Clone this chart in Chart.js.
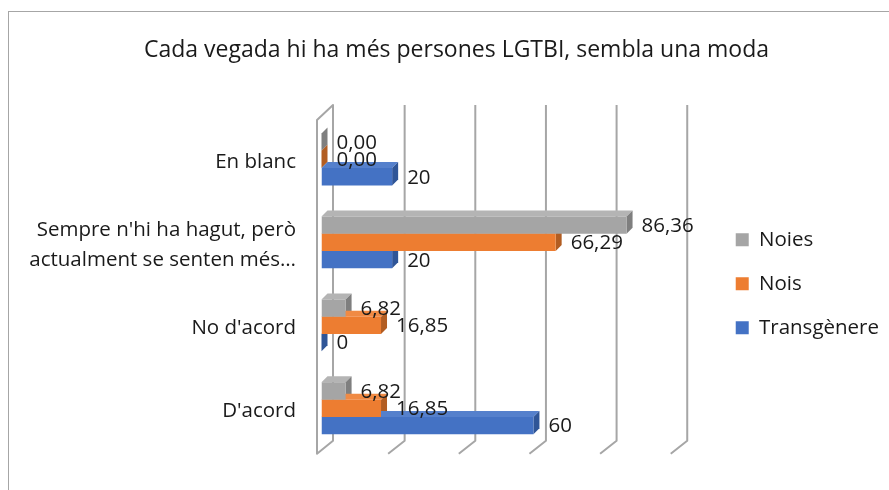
<!DOCTYPE html>
<html>
<head>
<meta charset="utf-8">
<script src="https://cdn.jsdelivr.net/npm/chart.js@4"></script>
<style>
  html, body { margin: 0; padding: 0; background: #fff; }
  #wrap { position: relative; width: 889px; height: 490px; overflow: hidden; }
  #frame { position: absolute; left: 8px; top: 11px; width: 920px; height: 520px; border: 1px solid #a6a6a6; }
  canvas { position: absolute; left: 0; top: 0; }
</style>
</head>
<body>
<div id="wrap">
  <div id="frame"></div>
  <canvas id="my-chart" width="889" height="490"></canvas>
</div>
<script>
// categories (top to bottom) and series
const categories = [
  "En blanc",
  ["Sempre n'hi ha hagut, però", "actualment se senten més…"],
  "No d'acord",
  "D'acord"
];
const noies = [0, 86.36, 6.82, 6.82];
const nois = [0, 66.29, 16.85, 16.85];
const transgenere = [20, 20, 0, 60];
const labelDecimals = [2, 2, 0];
const xMax = 100;
const xStep = 20;

const FONT = "'Open Sans', sans-serif";
const TEXT = "#1a1a1a";

// bar depth and floor depth
const DX = 6, DY = -6;

const faceColors = [
  { top: "#b4b4b4", side: "#7f7f7f" },
  { top: "#f08a44", side: "#b25d22" },
  { top: "#5580cc", side: "#2f5597" }
];

const depthPlugin = {
  id: "depth",
  beforeDatasetsDraw(chart) {
    const { ctx, chartArea: a, scales } = chart;
    const x = scales.x;
    ctx.save();
    ctx.strokeStyle = "#a6a6a6";
    ctx.lineWidth = 2;
    ctx.lineJoin = "round";
    x.ticks.forEach((t, i) => {
      const px = x.getPixelForValue(t.value);
      ctx.beginPath();
      if (i === 0) {
        // left wall
        ctx.moveTo(px - 4.5, a.top + 2);
        ctx.lineTo(px - 4.5, a.bottom + 4);
        ctx.lineTo(px + 11.5, a.bottom - 9);
        ctx.lineTo(px + 11.5, a.top - 13);
        ctx.closePath();
      } else {
        ctx.moveTo(px + 12.5, a.top - 13);
        ctx.lineTo(px + 12.5, a.bottom - 9);
        ctx.lineTo(px - 4, a.bottom + 4);
      }
      ctx.stroke();
    });
    // top and side faces of the bars
    chart.data.datasets.forEach((ds, di) => {
      const meta = chart.getDatasetMeta(di);
      meta.data.forEach((bar) => {
        const p = bar.getProps(["x", "y", "base", "height"], true);
        const top = p.y - p.height / 2;
        const bottom = p.y + p.height / 2;
        ctx.fillStyle = faceColors[di].top;
        ctx.beginPath();
        ctx.moveTo(p.base, top);
        ctx.lineTo(p.x, top);
        ctx.lineTo(p.x + DX, top + DY);
        ctx.lineTo(p.base + DX, top + DY);
        ctx.closePath();
        ctx.fill();
        ctx.fillStyle = faceColors[di].side;
        ctx.beginPath();
        ctx.moveTo(p.x, top);
        ctx.lineTo(p.x + DX, top + DY);
        ctx.lineTo(p.x + DX, bottom + DY);
        ctx.lineTo(p.x, bottom);
        ctx.closePath();
        ctx.fill();
      });
    });
    ctx.restore();
  },
  afterDatasetsDraw(chart) {
    const { ctx } = chart;
    ctx.save();
    ctx.font = "20.5px " + FONT;
    ctx.fillStyle = TEXT;
    ctx.textAlign = "left";
    ctx.textBaseline = "middle";
    chart.data.datasets.forEach((ds, di) => {
      const meta = chart.getDatasetMeta(di);
      meta.data.forEach((bar, i) => {
        const p = bar.getProps(["x", "y"], true);
        const txt = ds.data[i].toFixed(labelDecimals[di]).replace(".", ",");
        ctx.fillText(txt, p.x + 15, p.y + 1);
      });
    });
    ctx.restore();
  }
};

const ctx = document.getElementById("my-chart").getContext("2d");
const chart = new Chart(ctx, {
  type: "bar",
  data: {
    labels: categories,
    datasets: [
      { label: "Noies", data: noies, backgroundColor: "#a5a5a5" },
      { label: "Nois", data: nois, backgroundColor: "#ed7d31" },
      { label: "Transgènere", data: transgenere, backgroundColor: "#4472c4" }
    ]
  },
  options: {
    indexAxis: "y",
    responsive: false,
    animation: false,
    devicePixelRatio: 1,
    categoryPercentage: 0.625,
    barPercentage: 1,
    layout: { padding: { left: 24, right: 0, top: 0, bottom: 36 } },
    scales: {
      x: {
        display: false,
        min: 0,
        max: xMax,
        ticks: { stepSize: xStep }
      },
      y: {
        grid: { display: false, drawTicks: false },
        border: { display: false },
        ticks: {
          padding: 25.5,
          labelOffset: 3,
          color: TEXT,
          font: { family: FONT, size: 20.5, lineHeight: 1.44 }
        },
        afterFit(scale) { scale.width = 297.5; }
      },
      // empty axis that keeps the gap between the plot and the legend
      gap: {
        type: "category",
        position: "right",
        grid: { display: false, drawTicks: false },
        border: { display: false },
        ticks: { display: false },
        afterFit(scale) { scale.width = 37.5; }
      }
    },
    plugins: {
      title: {
        display: true,
        text: "Cada vegada hi ha més persones LGTBI, sembla una moda",
        color: TEXT,
        font: { family: FONT, size: 23, weight: "normal" },
        padding: { top: 37, bottom: 53.4 }
      },
      legend: {
        position: "right",
        fullSize: false,
        maxWidth: 300,
        labels: {
          boxWidth: 13,
          boxHeight: 13,
          padding: 23.5,
          color: TEXT,
          font: { family: FONT, size: 20.5 }
        }
      },
      tooltip: { enabled: false }
    }
  },
  plugins: [depthPlugin]
});
</script>
</body>
</html>
